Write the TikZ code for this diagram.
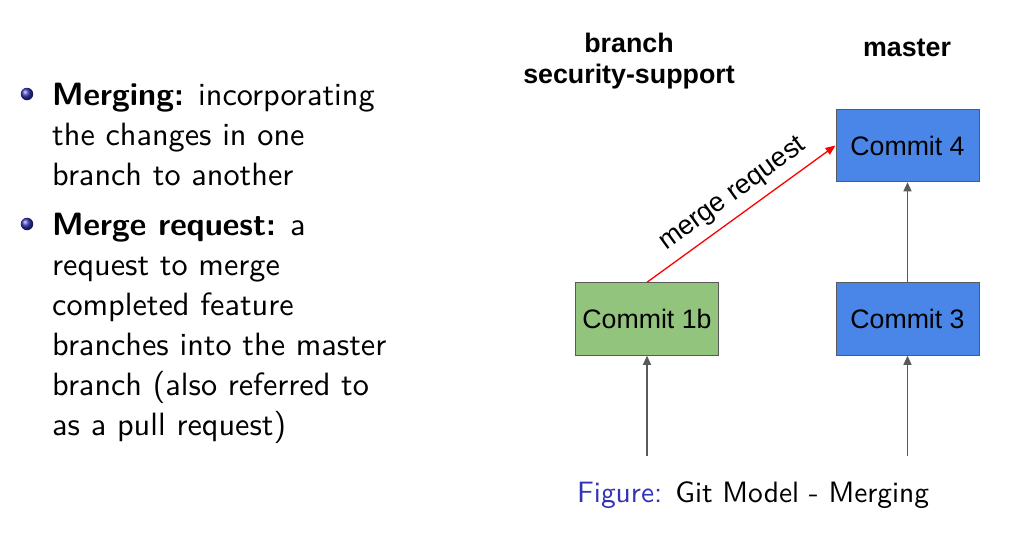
\documentclass[tikz,border=0pt]{standalone}
\usepackage{fontspec}
\newfontfamily\arial{Liberation Sans}
\usetikzlibrary{arrows.meta}
\definecolor{structblue}{RGB}{51,51,179}
\definecolor{boxgreen}{HTML}{93C47D}
\definecolor{boxblue}{HTML}{4A86E8}
\definecolor{edgegray}{HTML}{595959}
\newcommand\bigsf[1]{\scalebox{2.945}{\sffamily\fontsize{10.95}{13.6}\selectfont #1}}
\newcommand\capsf[1]{\scalebox{2.945}{\sffamily\fontsize{10}{12}\selectfont #1}}
\begin{document}
\begin{tikzpicture}[x=1pt,y=-1pt,
  commit/.style={draw=edgegray,line width=1pt,minimum width=143pt,minimum height=72.5pt,inner sep=0pt,font=\arial\fontsize{26.7}{32}\selectfont},
  head/.style={font=\arial\bfseries\fontsize{26.8}{32}\selectfont,align=center,inner sep=0pt},
  txt/.style={anchor=base west,inner sep=0pt},
  gline/.style={draw=edgegray,line width=1.2pt,-{Triangle[length=9pt,width=8pt]}},
  rline/.style={draw=red,line width=1.3pt,-{Triangle[length=10pt,width=8pt]}},
  bul/.style={circle,inner sep=0pt,minimum size=12.5pt,ball color=structblue,draw=none}
]
\useasboundingbox (0,0) rectangle (1010,550);
% left text
\node[bul] (b1) at (27,94) {};
\node[txt] (l1) at (52,105) {\bigsf{\textbf{Merging:} incorporating}};
\node[txt] (l2) at (52,145) {\bigsf{the changes in one}};
\node[txt] (l3) at (52,185) {\bigsf{branch to another}};
\node[bul] (b2) at (27,224) {};
\node[txt] (l4) at (52,235) {\bigsf{\textbf{Merge request:} a}};
\node[txt] (l5) at (52,275) {\bigsf{request to merge}};
\node[txt] (l6) at (52,315) {\bigsf{completed feature}};
\node[txt] (l7) at (52,355) {\bigsf{branches into the master}};
\node[txt] (l8) at (52,395) {\bigsf{branch (also referred to}};
\node[txt] (l9) at (52,435) {\bigsf{as a pull request)}};
% headers
\node[head,anchor=base] (hb1) at (629,52) {branch};
\node[head,anchor=base] (hb2) at (629,83) {security-support};
\node[head,anchor=base] (hm) at (907,56) {master};
% commits
\node[commit,fill=boxgreen] (c1b) at (647,319) {Commit 1b};
\node[commit,fill=boxblue] (c3) at (907.5,319) {Commit 3};
\node[commit,fill=boxblue] (c4) at (907.5,145.5) {Commit 4};
\coordinate (s1) at (647,456);
\coordinate (s3) at (907.5,456);
\draw[gline] (s1) -- (c1b.south);
\draw[gline] (s3) -- (c3.south);
\draw[gline] (c3.north) -- (c4.south);
\draw[rline] (c1b.north) -- (c4.west) node[pos=0.52,sloped,above=8pt,inner sep=0pt,font=\arial\fontsize{27}{32}\selectfont] (mr) {merge request};
% caption
\node[txt] (cap) at (577,502) {\capsf{\textcolor{structblue}{Figure:} Git Model - Merging}};
\end{tikzpicture}
\end{document}
